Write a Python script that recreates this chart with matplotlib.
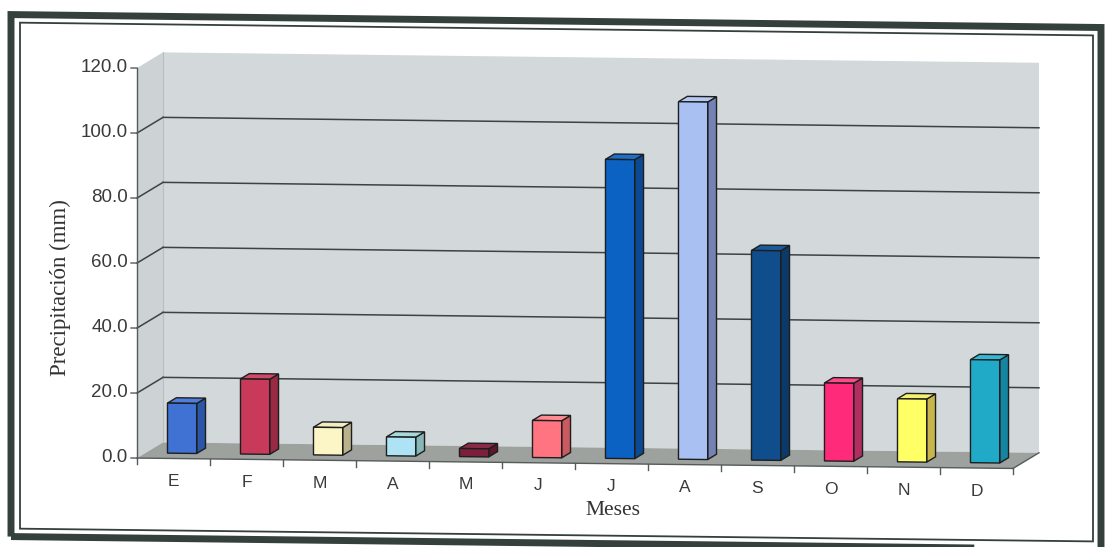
import matplotlib
matplotlib.use("Agg")
import numpy as np
import matplotlib.pyplot as plt
from matplotlib.patches import Polygon, Rectangle
from matplotlib.lines import Line2D
from matplotlib.transforms import Affine2D

# precipitacion mensual (mm)
meses = ["E", "F", "M", "A", "M", "J", "J", "A", "S", "O", "N", "D"]
precip = [15.4, 23.1, 8.5, 5.8, 2.5, 11.4, 92.0, 110.0, 64.5, 24.0, 19.4, 31.7]
y_ticks = [0, 20, 40, 60, 80, 100, 120]

color_frente = ["#3f72d2", "#c8395a", "#fcf5c6", "#ade3f4", "#7b1f3c", "#ff7480",
                "#0b62c2", "#a9c0f2", "#104d8c", "#ff2b7a", "#ffff66", "#20aac8"]
color_lado = ["#2b55a6", "#9a2a44", "#b9b28c", "#86b7b6", "#5b172d", "#c95a60",
              "#0a4a92", "#7482b4", "#0b3a6a", "#b02f60", "#c8b64c", "#1586a2"]
color_tope = ["#4f7fdc", "#d04a68", "#f3edc0", "#a6d9d8", "#8a2a48", "#ff8a90",
              "#1a70cc", "#b6c9f2", "#1a5a98", "#ff4a8a", "#f4f070", "#30b8d4"]

W, H = 1106, 547
fig = plt.figure(figsize=(W / 100, H / 100), dpi=100)
fig.patch.set_facecolor("white")

# el dibujo entero va ligeramente inclinado
inclina = Affine2D().translate(-553, 0).skew_deg(0, -0.68).translate(553, 0)

ax = fig.add_axes([137 / W, 84 / H, 876 / W, 390 / H])
ax.set_xlim(0, 12)
ax.set_ylim(0, 120)
ax.axis("off")
ax.set_zorder(6)

PROF = np.array([26.0, 16.0])  # desplazamiento de profundidad en pixeles
d0, d1 = 0.33, 0.67            # posicion de las columnas en profundidad


def pt(x, y, f):
    return ax.transData.transform((x, y)) + f * PROF


def poly(pts, fc, ec="none", lw=0.0, z=1):
    p = Polygon(np.array(pts), closed=True, facecolor=fc, edgecolor=ec,
                linewidth=lw, transform=inclina, zorder=z)
    fig.add_artist(p)
    return p


def linea(a, b, color="#3a4444", lw=1.0, z=3):
    fig.add_artist(Line2D([a[0], b[0]], [a[1], b[1]], color=color, lw=lw,
                          transform=inclina, zorder=z))


# marco doble
fig.add_artist(Rectangle((11, 4), 1090, 522, fill=False, edgecolor="#33403b",
                         linewidth=5.0, transform=inclina, zorder=0))
fig.add_artist(Rectangle((20, 12), 1073, 506, fill=False, edgecolor="#33403b",
                         linewidth=1.3, transform=inclina, zorder=0))

ymax = y_ticks[-1]
# pared del fondo, pared lateral y piso
poly([pt(0, 0, 1), pt(12, 0, 1), pt(12, ymax, 1), pt(0, ymax, 1)], "#d3d8da", z=1)
poly([pt(0, 0, 0), pt(0, 0, 1), pt(0, ymax, 1), pt(0, ymax, 0)], "#cdd2d4", z=1)
poly([pt(0, 0, 0), pt(12, 0, 0), pt(12, 0, 1), pt(0, 0, 1)], "#9da29f", z=1)
linea(pt(0, 0, 1), pt(0, ymax, 1), color="#b9bec0", lw=0.8, z=2)

# lineas de division
for v in y_ticks[1:-1]:
    linea(pt(0, v, 1), pt(12, v, 1), lw=1.1)
    linea(pt(0, v, 0), pt(0, v, 1), lw=1.1)

# ejes con marcas
linea(pt(0, 0, 0), pt(0, ymax, 0), color="#555b5b", lw=1.0, z=4)
linea(pt(0, 0, 0), pt(12, 0, 0), color="#555b5b", lw=1.0, z=4)
linea(pt(12, 0, 0), pt(12, 0, 1), color="#555b5b", lw=1.0, z=4)
for v in y_ticks:
    a = pt(0, v, 0)
    linea(a, a - np.array([6, 0]), color="#555b5b", z=4)
    fig.text(a[0] - 9, a[1], f"{v:.1f}", ha="right", va="center",
             fontsize=13.5, family="Liberation Sans", color="#3a3a3a",
             transform=inclina)
for k in range(13):
    a = pt(k, 0, 0)
    linea(a, a - np.array([0, 6]), color="#555b5b", z=4)
for i, m in enumerate(meses):
    a = pt(i + 0.5, 0, 0)
    fig.text(a[0], a[1] - 23, m, ha="center", va="center", fontsize=12.5,
             family="Liberation Sans", color="#3a3a3a", transform=inclina)

# columnas: frente con ax.bar, lado y tope como poligonos
ancho = 0.4
x = np.arange(12) + 0.5
frente = ax.bar(x, precip, width=ancho, color=color_frente, edgecolor="#1e1e1e",
                linewidth=1.0, clip_on=False,
                transform=ax.transData + Affine2D().translate(*(d0 * PROF)) + inclina)
for i, v in enumerate(precip):
    xl, xr = x[i] - ancho / 2, x[i] + ancho / 2
    poly([pt(xr, 0, d0), pt(xr, 0, d1), pt(xr, v, d1), pt(xr, v, d0)],
         color_lado[i], ec="#1e1e1e", lw=1.0, z=5)
    poly([pt(xl, v, d0), pt(xr, v, d0), pt(xr, v, d1), pt(xl, v, d1)],
         color_tope[i], ec="#1e1e1e", lw=1.0, z=5)

fig.text(60, 254, "Precipitación (mm)", rotation=90, ha="center", va="center",
         fontsize=16.5, family="Liberation Serif", color="#333333", transform=inclina)
fig.text(613, 37, "Meses", ha="center", va="center", fontsize=15.5,
         family="Liberation Serif", color="#333333", transform=inclina)

fig.savefig("out.png", dpi=100)
